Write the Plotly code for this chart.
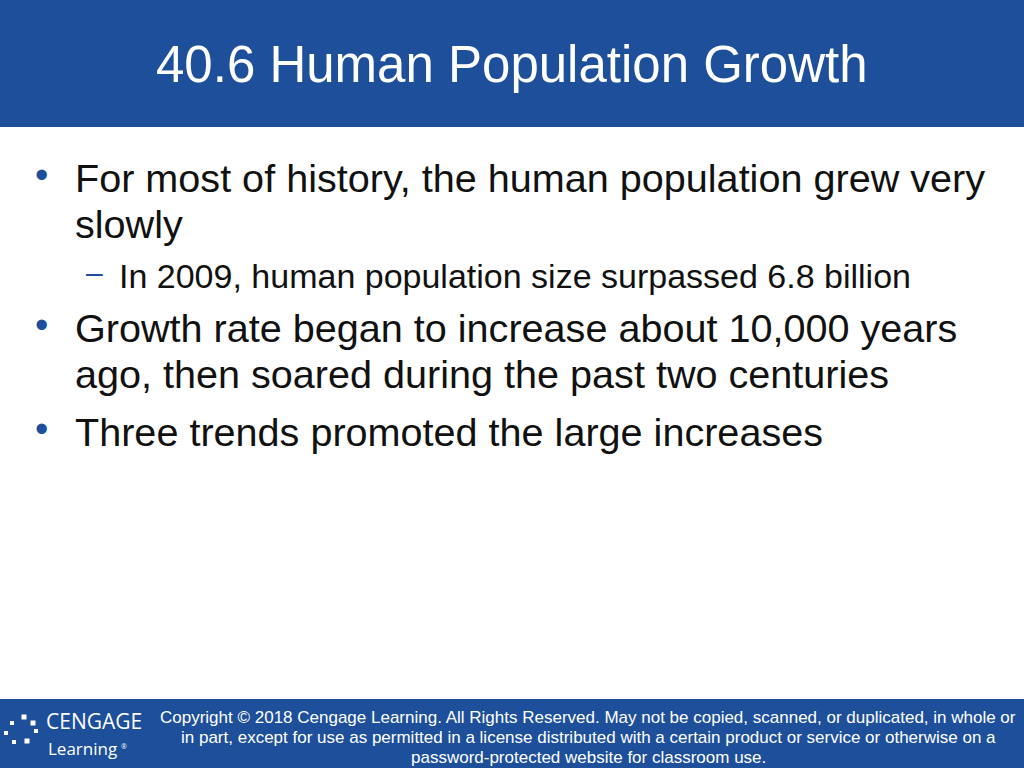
import plotly.graph_objects as go

title = "40.6 Human Population Growth"
bullets = [
    (0, ["For most of history, the human population grew very", "slowly"]),
    (1, ["In 2009, human population size surpassed 6.8 billion"]),
    (0, ["Growth rate began to increase about 10,000 years", "ago, then soared during the past two centuries"]),
    (0, ["Three trends promoted the large increases"]),
]
bullet_tops = [178, 276, 328, 432]
copyright_lines = [
    "Copyright © 2018 Cengage Learning. All Rights Reserved. May not be copied, scanned, or duplicated, in whole or",
    "in part, except for use as permitted in a license distributed with a certain product or service or otherwise on a",
    "password-protected website for classroom use.",
]

W, H = 1024, 768
BLUE = "#1D4F9B"
FONT = "Liberation Sans"
def py(p): return 1 - p / H
def px(p): return p / W

fig = go.Figure()
shapes = [
    dict(type="rect", xref="paper", yref="paper", x0=0, x1=1, y0=py(127), y1=1, fillcolor=BLUE, line_width=0, layer="below"),
    dict(type="rect", xref="paper", yref="paper", x0=0, x1=1, y0=0, y1=py(699), fillcolor=BLUE, line_width=0, layer="below"),
]
ann = [dict(text=title, x=0.5, y=py(65), xref="paper", yref="paper", showarrow=False,
            font=dict(family=FONT, size=51, color="white"), xanchor="center", yanchor="middle")]
for (lvl, lines), top in zip(bullets, bullet_tops):
    size = 39.6 if lvl == 0 else 34
    lh = 46
    if lvl == 0:
        ann.append(dict(text="•", x=px(33), y=py(top - 3), xref="paper", yref="paper", showarrow=False,
                        font=dict(family=FONT, size=38, color=BLUE), xanchor="left", yanchor="middle"))
        xt = 73
    else:
        ann.append(dict(text="–", x=px(84), y=py(top - 4), xref="paper", yref="paper", showarrow=False,
                        font=dict(family=FONT, size=30, color=BLUE), xanchor="left", yanchor="middle"))
        xt = 117
    for i, ln in enumerate(lines):
        ann.append(dict(text=ln, x=px(xt), y=py(top + i * lh), xref="paper", yref="paper", showarrow=False,
                        font=dict(family=FONT, size=size, color="#111111"), xanchor="left", yanchor="middle"))
for i, ln in enumerate(copyright_lines):
    ann.append(dict(text=ln, x=px(588), y=py(717 + i * 20), xref="paper", yref="paper", showarrow=False,
                    font=dict(family=FONT, size=17, color="white"), xanchor="center", yanchor="middle"))
ann.append(dict(text="CENGAGE", x=px(44), y=py(721), xref="paper", yref="paper", showarrow=False,
                font=dict(family="Open Sans", size=21, color="white"), xanchor="left", yanchor="middle"))
ann.append(dict(text="Learning", x=px(46), y=py(748), xref="paper", yref="paper", showarrow=False,
                font=dict(family="Open Sans", size=17, color="white"), xanchor="left", yanchor="middle"))
ann.append(dict(text="®", x=px(119), y=py(746), xref="paper", yref="paper", showarrow=False,
                font=dict(family="Open Sans", size=7, color="white"), xanchor="left", yanchor="middle"))
for (cx, cy, s) in [(24, 717, 5), (33, 723, 5), (12, 723, 4), (6, 733, 4), (14, 742, 4), (27, 741, 5), (36, 731, 4)]:
    shapes.append(dict(type="rect", xref="paper", yref="paper", x0=px(cx - s/2), x1=px(cx + s/2),
                       y0=py(cy + s/2), y1=py(cy - s/2), fillcolor="white", line_width=0))

fig.update_layout(width=W, height=H, margin=dict(l=0, r=0, t=0, b=0), paper_bgcolor="white",
                  plot_bgcolor="white", shapes=shapes, annotations=ann,
                  xaxis=dict(visible=False), yaxis=dict(visible=False), showlegend=False)
fig.write_html("out.html", config={"displayModeBar": False},
               post_script="document.body.style.margin='0';document.body.style.overflow='hidden';")
